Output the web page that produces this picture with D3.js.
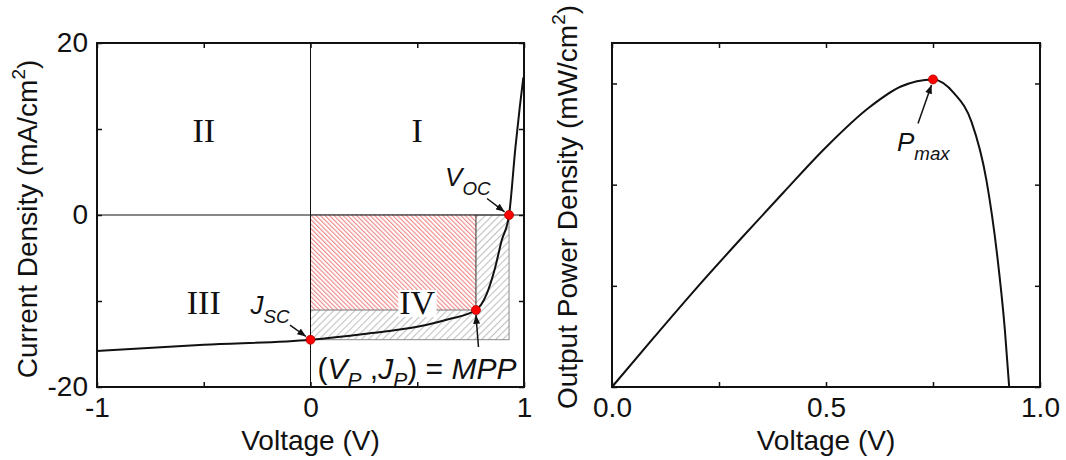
<!DOCTYPE html>
<html lang="en">
<head>
<meta charset="UTF-8">
<title>J-V / P-V</title>
<style>
  body { margin: 0; background: #fff; }
  text { font-family: "Liberation Sans", Arial, sans-serif; fill: #111; }
</style>
</head>
<body>
<script src="https://cdn.jsdelivr.net/npm/d3@7/dist/d3.min.js"></script>
<script>
// J-V curve (left)
var jvVoltage = [-1, -0.5, 0, 0.26, 0.5, 0.65, 0.775, 0.825, 0.865, 0.895, 0.93, 0.96, 0.98, 0.997];
var jvCurrent = [-15.8, -15.1, -14.5, -13.8, -13.0, -12.1, -11.05, -9.2, -6.1, -3.0, 0, 7.9, 12.5, 16.0];
// P-V curve (right)
var pvVoltage = [0, 0.1, 0.2, 0.3, 0.4, 0.5, 0.6, 0.675, 0.75, 0.8, 0.84, 0.875, 0.9, 0.918, 0.928];
var pvPower = [0, 2.5, 4.95, 7.3, 9.6, 11.85, 13.8, 14.85, 15.2, 14.5, 13.1, 10.2, 6.5, 2.8, 0];
// key points
var Jsc = -14.5, Voc = 0.93, Vmp = 0.775, Jmp = -11.05;
var Vpmax = 0.75, Pmax = 15.2;
// ticks
var jvXTicks = [-1, -0.5, 0, 0.5, 1];
var jvYTicks = [-20, -10, 0, 10, 20];
var pvXTicks = [0, 0.25, 0.5, 0.75, 1];
var pvYTicks = [0, 5, 10, 15];
var quadrants = ["I", "II", "III", "IV"];

var width = 1066, height = 460;
var svg = d3.select("body").append("svg")
  .attr("width", width).attr("height", height);

var defs = svg.append("defs");
// hatch patterns
var pr = defs.append("pattern").attr("id", "hatchRed")
  .attr("patternUnits", "userSpaceOnUse").attr("width", 3.2).attr("height", 3.2)
  .attr("patternTransform", "rotate(-45)");
pr.append("rect").attr("width", 3.2).attr("height", 3.2).attr("fill", "#fff");
pr.append("line").attr("x1", 0.6).attr("y1", 0).attr("x2", 0.6).attr("y2", 3.2)
  .attr("stroke", "#f07a7a").attr("stroke-width", 1);
var pg = defs.append("pattern").attr("id", "hatchGray")
  .attr("patternUnits", "userSpaceOnUse").attr("width", 5).attr("height", 5)
  .attr("patternTransform", "rotate(45)");
pg.append("rect").attr("width", 5).attr("height", 5).attr("fill", "#fff");
pg.append("line").attr("x1", 0.6).attr("y1", 0).attr("x2", 0.6).attr("y2", 5)
  .attr("stroke", "#bdbdbd").attr("stroke-width", 1);
defs.append("marker").attr("id", "arr")
  .attr("viewBox", "0 0 10 8").attr("refX", 10).attr("refY", 4)
  .attr("markerUnits", "userSpaceOnUse").attr("markerWidth", 9).attr("markerHeight", 7)
  .attr("orient", "auto")
  .append("path").attr("d", "M0,0 L10,4 L0,8 z").attr("fill", "#111");

// scales
var xJ = d3.scaleLinear().domain([-1, 1]).range([97, 524]);
var yJ = d3.scaleLinear().domain([-20, 20]).range([387, 43]);
var xP = d3.scaleLinear().domain([0, 1]).range([612, 1040]);
var yP = d3.scaleLinear().domain([0, 17]).range([387, 43]);

function drawAxes(g, x, y, xt, yt, xfmt, yfmt) {
  var x0 = x.range()[0], x1 = x.range()[1], y0 = y.range()[0], y1 = y.range()[1];
  g.append("g").attr("transform", "translate(0," + y0 + ")")
    .call(d3.axisBottom(x).tickValues(xt).tickSizeInner(-5).tickSizeOuter(0).tickPadding(10).tickFormat(xfmt));
  g.append("g").attr("transform", "translate(0," + y1 + ")")
    .call(d3.axisTop(x).tickValues(xt).tickSizeInner(-5).tickSizeOuter(0).tickFormat(""));
  g.append("g").attr("transform", "translate(" + x0 + ",0)")
    .call(d3.axisLeft(y).tickValues(yt).tickSizeInner(-5).tickSizeOuter(0).tickPadding(9).tickFormat(yfmt));
  g.append("g").attr("transform", "translate(" + x1 + ",0)")
    .call(d3.axisRight(y).tickValues(yt).tickSizeInner(-5).tickSizeOuter(0).tickFormat(""));
  g.selectAll(".domain").remove();
  g.selectAll(".tick line").attr("stroke", "#111").attr("stroke-width", 1.5);
  g.selectAll(".tick text").attr("font-size", 28).attr("fill", "#111")
    .attr("font-family", "Liberation Sans, Arial, sans-serif");
  g.append("rect").attr("x", x0).attr("y", y1).attr("width", x1 - x0).attr("height", y0 - y1)
    .attr("fill", "none").attr("stroke", "#111").attr("stroke-width", 2);
}

// ---------- left panel ----------
var gL = svg.append("g");
// hatched rectangles
gL.append("rect").attr("x", xJ(0)).attr("y", yJ(0))
  .attr("width", xJ(Voc) - xJ(0)).attr("height", yJ(Jsc) - yJ(0))
  .attr("fill", "url(#hatchGray)").attr("stroke", "#8a8a8a").attr("stroke-width", 1);
gL.append("rect").attr("x", xJ(0)).attr("y", yJ(0))
  .attr("width", xJ(Vmp) - xJ(0)).attr("height", yJ(Jmp) - yJ(0))
  .attr("fill", "url(#hatchRed)").attr("stroke", "none");
gL.append("line").attr("x1", xJ(Vmp)).attr("x2", xJ(Vmp)).attr("y1", yJ(0)).attr("y2", yJ(Jmp))
  .attr("stroke", "#333").attr("stroke-width", 1);
gL.append("line").attr("x1", xJ(0)).attr("x2", xJ(Vmp)).attr("y1", yJ(Jmp)).attr("y2", yJ(Jmp))
  .attr("stroke", "#777").attr("stroke-width", 1);
// zero lines
gL.append("line").attr("x1", xJ(0)).attr("x2", xJ(0)).attr("y1", yJ(20)).attr("y2", yJ(-20))
  .attr("stroke", "#111").attr("stroke-width", 1);
gL.append("line").attr("x1", xJ(-1)).attr("x2", xJ(1)).attr("y1", yJ(0)).attr("y2", yJ(0))
  .attr("stroke", "#111").attr("stroke-width", 1);

drawAxes(gL, xJ, yJ, jvXTicks, jvYTicks,
  function(d) { return d % 1 === 0 ? String(d) : ""; },
  function(d) { return d % 20 === 0 ? String(d) : ""; });

// quadrant labels
var quadPos = [[0.5, 10], [-0.5, 10], [-0.5, -10], [0.5, -10]];
quadrants.forEach(function(q, i) {
  var t = gL.append("text").attr("x", xJ(quadPos[i][0])).attr("y", yJ(quadPos[i][1]) + 13)
    .attr("text-anchor", "middle").attr("font-size", 34)
    .style("font-family", "Liberation Serif, 'Times New Roman', serif").text(q);
  if (q === "IV") {
    var b = t.node().getBBox();
    gL.insert("rect", function() { return t.node(); })
      .attr("x", b.x - 1).attr("y", b.y + 6).attr("width", b.width + 2).attr("height", b.height - 10)
      .attr("fill", "#fff");
  }
});

// J-V curve
var jvData = jvVoltage.map(function(v, i) { return [v, jvCurrent[i]]; });
gL.append("path").datum(jvData)
  .attr("d", d3.line().x(function(d) { return xJ(d[0]); }).y(function(d) { return yJ(d[1]); })
    .curve(d3.curveMonotoneX))
  .attr("fill", "none").attr("stroke", "#111").attr("stroke-width", 2);

// annotations
function arrow(g, px, py, sx, sy, ex, ey) {
  g.append("line").attr("x1", px + sx).attr("y1", py + sy).attr("x2", px + ex).attr("y2", py + ey)
    .attr("stroke", "#111").attr("stroke-width", 1.5).attr("marker-end", "url(#arr)");
}
function subLabel(g, x, y, main, sub, size) {
  var t = g.append("text").attr("x", x).attr("y", y).attr("font-size", size).attr("font-style", "italic");
  t.append("tspan").text(main);
  t.append("tspan").attr("dy", 9).attr("font-size", size * 0.72).text(sub);
  return t;
}
var pts = [[Voc, 0], [Vmp, Jmp], [0, Jsc]];
var vx = xJ(Voc), vy = yJ(0);
arrow(gL, vx, vy, -22, -16.5, -4.5, -3.2);
subLabel(gL, vx - 64, vy - 29.5, "V", "OC", 26);
var jx = xJ(0), jy = yJ(Jsc);
arrow(gL, jx, jy, -20.5, -14.5, -4.5, -3.2);
subLabel(gL, jx - 60, jy - 26, "J", "SC", 26);
var mx = xJ(Vmp), my = yJ(Jmp);
arrow(gL, mx, my, 2.5, 37, 0, 5);
var mt = gL.append("text").attr("x", xJ(0) + 7).attr("y", 379).attr("font-size", 30);
mt.append("tspan").text("(");
mt.append("tspan").attr("font-style", "italic").text("V");
mt.append("tspan").attr("font-style", "italic").attr("font-size", 21).attr("dy", 8).text("P");
mt.append("tspan").attr("dy", -8).text(" ,");
mt.append("tspan").attr("font-style", "italic").text("J");
mt.append("tspan").attr("font-style", "italic").attr("font-size", 21).attr("dy", 8).text("P");
mt.append("tspan").attr("dy", -8).text(") = ");
mt.append("tspan").attr("font-style", "italic").text("MPP");

gL.selectAll("circle.kp").data(pts).enter().append("circle").attr("class", "kp")
  .attr("cx", function(d) { return xJ(d[0]); }).attr("cy", function(d) { return yJ(d[1]); })
  .attr("r", 4.5).attr("fill", "#ff0000").attr("stroke", "#b00000").attr("stroke-width", 0.8);

// axis titles
gL.append("text").attr("x", xJ(0)).attr("y", 450).attr("text-anchor", "middle")
  .attr("font-size", 28).text("Voltage (V)");
var ytl = gL.append("text").attr("transform", "translate(37,219) rotate(-90)")
  .attr("text-anchor", "middle").attr("font-size", 28);
ytl.append("tspan").text("Current Density (mA/cm");
ytl.append("tspan").attr("font-size", 19).attr("dy", -12).text("2");
ytl.append("tspan").attr("dy", 12).text(")");

// ---------- right panel ----------
var gR = svg.append("g");
drawAxes(gR, xP, yP, pvXTicks, pvYTicks,
  function(d) { return d % 0.5 === 0 ? d3.format(".1f")(d) : ""; },
  function() { return ""; });

var pvData = pvVoltage.map(function(v, i) { return [v, pvPower[i]]; });
gR.append("path").datum(pvData)
  .attr("d", d3.line().x(function(d) { return xP(d[0]); }).y(function(d) { return yP(d[1]); })
    .curve(d3.curveMonotoneX))
  .attr("fill", "none").attr("stroke", "#111").attr("stroke-width", 2);

var px = xP(Vpmax), py = yP(Pmax);
arrow(gR, px, py, -15, 44, -1.5, 5.5);
subLabel(gR, px - 36, py + 72, "P", "max", 26);
gR.append("circle").attr("cx", px).attr("cy", py).attr("r", 4.5)
  .attr("fill", "#ff0000").attr("stroke", "#b00000").attr("stroke-width", 0.8);

gR.append("text").attr("x", xP(0.5)).attr("y", 450).attr("text-anchor", "middle")
  .attr("font-size", 28).text("Voltage (V)");
var ytr = gR.append("text").attr("transform", "translate(577,207) rotate(-90)")
  .attr("text-anchor", "middle").attr("font-size", 28);
ytr.append("tspan").text("Output Power Density (mW/cm");
ytr.append("tspan").attr("font-size", 19).attr("dy", -12).text("2");
ytr.append("tspan").attr("dy", 12).text(")");
</script>
</body>
</html>
